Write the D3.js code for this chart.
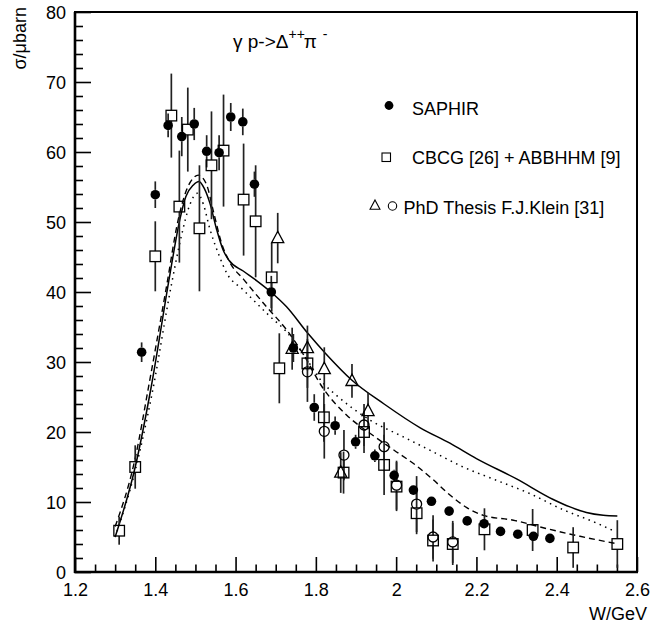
<!DOCTYPE html>
<html>
<head>
<meta charset="utf-8">
<script src="https://cdn.jsdelivr.net/npm/d3@7"></script>
<style>
  html, body { margin: 0; padding: 0; background: #fff; }
  svg text { font-family: "Liberation Sans", Arial, Helvetica, sans-serif; fill: #000; }
</style>
</head>
<body>
<svg id="chart" width="667" height="625"></svg>
<script>
// SAPHIR measurements (W in GeV, sigma in microbarn, stat. error)
const saphirW = [1.366,1.400,1.432,1.466,1.497,1.528,1.559,1.588,1.618,1.647,1.689,1.744,1.796,1.848,1.899,1.947,1.995,2.043,2.088,2.132,2.177,2.219,2.260,2.303,2.342,2.383];
const saphirS = [31.4,53.9,63.8,62.2,64.0,60.1,59.9,65.0,64.3,55.4,40.0,32.0,23.5,20.9,18.6,16.6,13.8,11.7,10.1,8.7,7.3,6.9,5.8,5.4,5.1,4.8];
const saphirE = [1.4,1.9,1.7,2.8,2.3,2.3,2.5,2.0,1.9,1.8,2.3,2.0,1.9,1.3,1.0,0.9,0.8,0.7,0.6,0.6,0.5,0.5,0.5,0.5,0.4,0.4];

// CBCG [26] + ABBHHM [9]
const cbcgW = [1.310,1.350,1.400,1.440,1.460,1.481,1.510,1.540,1.570,1.620,1.650,1.690,1.709,1.779,1.820,1.869,1.920,1.970,2.001,2.051,2.092,2.141,2.220,2.340,2.441,2.551];
const cbcgS = [5.9,15.0,45.1,65.2,52.2,63.2,49.1,58.1,60.2,53.2,50.1,42.1,29.1,29.8,22.1,14.2,20.0,15.3,12.2,8.4,4.5,4.0,6.1,6.0,3.5,4.0];
const cbcgE = [2.0,3.1,5.0,6.0,8.0,6.0,9.0,7.7,8.0,8.0,8.0,4.9,5.0,3.5,3.5,3.0,3.0,4.3,3.5,3.0,3.0,3.0,3.0,3.0,2.9,3.4];

// PhD thesis F.J. Klein [31]: triangles and open circles
const kleinTriW = [1.705,1.741,1.779,1.821,1.862,1.890,1.930];
const kleinTriS = [47.7,31.9,32.0,29.0,14.2,27.3,23.0];
const kleinTriE = [3.6,3.0,3.2,3.1,2.9,2.4,2.6];
const kleinCirW = [1.779,1.821,1.870,1.920,1.970,2.001,2.051,2.092,2.141];
const kleinCirS = [28.6,20.1,16.7,21.0,17.9,12.4,9.7,5.0,4.3];
const kleinCirE = [4.3,3.9,3.6,3.0,3.5,3.5,4.0,3.1,3.0];

// Model curves
const solidW = [1.300,1.350,1.390,1.437,1.461,1.476,1.495,1.509,1.522,1.536,1.553,1.569,1.584,1.619,1.653,1.690,1.727,1.780,1.823,1.890,1.970,2.060,2.134,2.200,2.300,2.390,2.433,2.474,2.516,2.551];
const solidS = [5.0,15.0,26.5,42.7,50.3,53.6,55.3,55.8,54.8,52.7,48.9,46.0,44.5,43.0,41.6,39.9,37.9,34.1,31.3,27.4,24.0,20.6,18.4,16.2,13.3,10.4,9.3,8.5,8.1,8.0];
const dashW = [1.300,1.349,1.385,1.428,1.457,1.478,1.495,1.507,1.528,1.544,1.565,1.585,1.620,1.677,1.727,1.770,1.815,1.877,1.940,1.995,2.050,2.090,2.134,2.176,2.217,2.292,2.375,2.458,2.545];
const dashS = [6.5,16.0,27.0,40.8,50.3,54.6,56.3,56.7,55.3,51.7,47.0,44.3,41.8,37.9,34.6,31.0,26.5,22.4,19.6,17.4,15.2,13.3,11.0,9.2,8.1,7.4,6.2,5.1,4.1];
const dotW = [1.300,1.350,1.392,1.440,1.465,1.485,1.505,1.520,1.536,1.557,1.578,1.619,1.686,1.727,1.770,1.818,1.852,1.935,2.018,2.084,2.167,2.250,2.333,2.416,2.499,2.545];
const dotS = [5.0,14.5,25.5,41.0,48.0,52.3,54.1,52.5,49.0,45.5,42.7,40.3,36.5,34.3,31.0,27.0,25.2,21.7,19.3,17.4,15.0,13.1,11.2,8.9,7.0,5.8];

// Axis ticks
const xMajor = [1.2,1.4,1.6,1.8,2.0,2.2,2.4,2.6];
const yMajor = [0,10,20,30,40,50,60,70,80];

const svg = d3.select("#chart");
const x = d3.scaleLinear().domain([1.2, 2.6]).range([75, 637]);
const y = d3.scaleLinear().domain([0, 80]).range([572, 12]);

const zip = (a, b, c) => a.map((w, i) => ({ w, s: b[i], e: c ? c[i] : 0 }));

// frame
svg.append("rect")
  .attr("x", x(1.2)).attr("y", y(80))
  .attr("width", x(2.6) - x(1.2)).attr("height", y(0) - y(80))
  .attr("fill", "none").attr("stroke", "#000").attr("stroke-width", 2);

// x axis: inward major and minor ticks
const xMinor = d3.range(1.2, 2.6001, 0.05).filter(v => Math.abs(v * 5 - Math.round(v * 5)) > 1e-6);
const gx = svg.append("g").attr("transform", `translate(0,${y(0)})`);
gx.call(d3.axisBottom(x).tickValues(xMajor).tickSize(-15).tickPadding(11).tickFormat(d3.format("~g")));
gx.append("g").call(d3.axisBottom(x).tickValues(xMinor).tickSize(-7.5).tickFormat(""));
gx.selectAll(".domain").remove();
gx.selectAll("line").attr("stroke", "#000").attr("stroke-width", 1.6);
gx.selectAll("text").style("font-size", "18px").attr("fill", "#000");

// y axis
const yMinor = d3.range(0, 80.001, 2).filter(v => v % 10 !== 0);
const gy = svg.append("g").attr("transform", `translate(${x(1.2)},0)`);
gy.call(d3.axisLeft(y).tickValues(yMajor).tickSize(-16).tickPadding(9).tickFormat(d3.format("d")));
gy.append("g").call(d3.axisLeft(y).tickValues(yMinor).tickSize(-8).tickFormat(""));
gy.selectAll(".domain").remove();
gy.selectAll("line").attr("stroke", "#000").attr("stroke-width", 1.6);
gy.selectAll("text").style("font-size", "18px").attr("fill", "#000").attr("dy", "0.36em");

// heavier left and bottom axis lines
svg.append("line").attr("x1", x(1.2)).attr("x2", x(1.2)).attr("y1", y(80)).attr("y2", y(0) + 1)
  .attr("stroke", "#000").attr("stroke-width", 2.6);
svg.append("line").attr("x1", x(1.2) - 1).attr("x2", x(2.6) + 1).attr("y1", y(0)).attr("y2", y(0))
  .attr("stroke", "#000").attr("stroke-width", 2.6);

// axis titles
svg.append("text").attr("transform", `translate(26,7) rotate(-90)`)
  .attr("text-anchor", "end").style("font-size", "18px").text("σ/μbarn");
svg.append("text").attr("x", 647).attr("y", 620)
  .attr("text-anchor", "end").style("font-size", "18px").text("W/GeV");

// reaction label
const title = svg.append("text").attr("x", 233).attr("y", 48).style("font-size", "19px");
title.append("tspan").text("γ p->Δ");
title.append("tspan").attr("dy", -9).style("font-size", "14px").text("++");
title.append("tspan").attr("dy", 9).attr("dx", -1).text("π");
title.append("tspan").attr("dy", -9).attr("dx", 2).style("font-size", "14px").text(" -");

// model curves
const line = d3.line().x(d => x(d.w)).y(d => y(d.s)).curve(d3.curveMonotoneX);
const curves = svg.append("g").attr("fill", "none").attr("stroke", "#000");
curves.append("path").datum(zip(solidW, solidS)).attr("d", line).attr("stroke-width", 1.5);
curves.append("path").datum(zip(dashW, dashS)).attr("d", line).attr("stroke-width", 1.4).attr("stroke-dasharray", "6,4");
curves.append("path").datum(zip(dotW, dotS)).attr("d", line).attr("stroke-width", 1.5).attr("stroke-dasharray", "1.5,4.5");

// error bars with a gap at the marker
function errorBars(data, gap) {
  const g = svg.append("g").attr("stroke", "#222").attr("stroke-width", 1.7);
  data.forEach(d => {
    const yc = y(d.s), yt = y(d.s + d.e), yb = y(d.s - d.e);
    if (yc - gap > yt) g.append("line").attr("x1", x(d.w)).attr("x2", x(d.w)).attr("y1", yt).attr("y2", yc - gap);
    if (yc + gap < yb) g.append("line").attr("x1", x(d.w)).attr("x2", x(d.w)).attr("y1", yc + gap).attr("y2", yb);
  });
}

const cbcg = zip(cbcgW, cbcgS, cbcgE);
const tri = zip(kleinTriW, kleinTriS, kleinTriE);
const cir = zip(kleinCirW, kleinCirS, kleinCirE);
const saphir = zip(saphirW, saphirS, saphirE);

errorBars(cbcg, 5.3);
errorBars(tri, 5);
errorBars(cir, 5);
errorBars(saphir, 4.8);

const triPath = (cx, cy, s) => `M${cx},${cy - s * 0.62}L${cx + s * 0.55},${cy + s * 0.42}L${cx - s * 0.55},${cy + s * 0.42}Z`;

svg.append("g").selectAll("rect").data(cbcg).join("rect")
  .attr("x", d => x(d.w) - 5.3).attr("y", d => y(d.s) - 5.3)
  .attr("width", 10.6).attr("height", 10.6)
  .attr("fill", "none").attr("stroke", "#000").attr("stroke-width", 1.3);
svg.append("g").selectAll("path").data(tri).join("path")
  .attr("d", d => triPath(x(d.w), y(d.s), 11))
  .attr("fill", "none").attr("stroke", "#000").attr("stroke-width", 1.3);
svg.append("g").selectAll("circle").data(cir).join("circle")
  .attr("cx", d => x(d.w)).attr("cy", d => y(d.s)).attr("r", 5)
  .attr("fill", "none").attr("stroke", "#000").attr("stroke-width", 1.3);
svg.append("g").selectAll("circle").data(saphir).join("circle")
  .attr("cx", d => x(d.w)).attr("cy", d => y(d.s)).attr("r", 4.8)
  .attr("fill", "#000");

// legend
const leg = svg.append("g");
leg.append("circle").attr("cx", 389).attr("cy", 105.5).attr("r", 4.4).attr("fill", "#000");
leg.append("text").attr("x", 412).attr("y", 115).style("font-size", "18px").text("SAPHIR");
leg.append("rect").attr("x", 382).attr("y", 153).attr("width", 8.5).attr("height", 8.5)
  .attr("fill", "none").attr("stroke", "#000").attr("stroke-width", 1.1);
leg.append("text").attr("x", 412).attr("y", 163.5).style("font-size", "18px").text("CBCG [26] + ABBHHM [9]");
leg.append("path").attr("d", triPath(375, 205.5, 9)).attr("fill", "none").attr("stroke", "#000").attr("stroke-width", 1.1);
leg.append("circle").attr("cx", 392.5).attr("cy", 206).attr("r", 4.2)
  .attr("fill", "none").attr("stroke", "#000").attr("stroke-width", 1.1);
leg.append("text").attr("x", 403.5).attr("y", 213.5).style("font-size", "18px").text("PhD Thesis F.J.Klein [31]");
</script>
</body>
</html>
